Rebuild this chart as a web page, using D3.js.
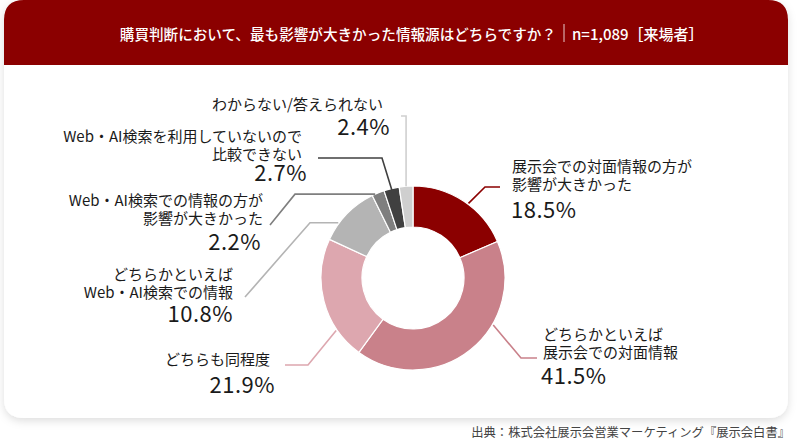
<!DOCTYPE html>
<html>
<head>
<meta charset="utf-8">
<script src="https://d3js.org/d3.v7.min.js"></script>
<style>
  body { margin: 0; background: #fff; }
  text { font-family: "Noto Sans CJK JP", "Noto Sans", sans-serif; }
</style>
</head>
<body>
<svg width="800" height="444"></svg>
<script>
var title = "購買判断において、最も影響が大きかった情報源はどちらですか？";
var sampleNote = "n=1,089［来場者］";
var source = "出典：株式会社展示会営業マーケティング『展示会白書』";

var categories = [
  "展示会での対面情報の方が\n影響が大きかった",
  "どちらかといえば\n展示会での対面情報",
  "どちらも同程度",
  "どちらかといえば\nWeb・AI検索での情報",
  "Web・AI検索での情報の方が\n影響が大きかった",
  "Web・AI検索を利用していないので\n比較できない",
  "わからない/答えられない"
];
var values = [18.5, 41.5, 21.9, 10.8, 2.2, 2.7, 2.4];
var colors = ["#8b0000", "#c9818a", "#dda7af", "#b4b4b4", "#7f7f7f", "#404040", "#cfcfcf"];

// label placement (layout only)
var labelPos = [
  { x: 512, y: 165, anchor: "start", px: 511, py: 208 },
  { x: 543, y: 333, anchor: "start", px: 541, py: 374 },
  { x: 270, y: 358, anchor: "end", px: 275, py: 383 },
  { x: 233, y: 273, anchor: "end", px: 233, py: 312 },
  { x: 263, y: 199, anchor: "end", px: 261, py: 240 },
  { x: 302, y: 135, anchor: "end", px: 307, py: 171 },
  { x: 383, y: 103, anchor: "end", px: 390, py: 125 }
];
// leader lines: where they leave the ring, then bends toward label
var leaders = [
  { frac: 0.55, r: 93, pts: [[485, 187], [500, 187]] },
  { frac: 0.36, r: 93, pts: [[521, 358], [537, 358]] },
  { frac: 0.25, r: 93, pts: [[308, 365], [285, 365]] },
  { frac: 0.3, r: 93, hx: 310, pts: [[245, 297]] },
  { frac: 0.25, r: 92, hx: 295, pts: [[270, 225]] },
  { frac: 0.5, r: 90, pts: [[382, 158], [318, 158]] },
  { frac: 0.5, r: 92, vy: 116, pts: [[401, 116]] }
];

var svg = d3.select("svg");
var cx = 413, cy = 278, outerR = 92, innerR = 51;

var defs = svg.append("defs");
var f = defs.append("filter").attr("id", "sh")
  .attr("x", "-5%").attr("y", "-5%").attr("width", "110%").attr("height", "115%");
f.append("feDropShadow").attr("dx", 0).attr("dy", 3).attr("stdDeviation", 4)
  .attr("flood-color", "#000").attr("flood-opacity", 0.13);

// card + header
var cardX = 4, cardW = 784, headH = 65, cardB = 418, rad = 20;
svg.append("path")
  .attr("filter", "url(#sh)")
  .attr("fill", "#fff")
  .attr("d", "M" + cardX + "," + rad + "Q" + cardX + ",0 " + (cardX + rad) + ",0" +
    "H" + (cardX + cardW - rad) + "Q" + (cardX + cardW) + ",0 " + (cardX + cardW) + "," + rad +
    "V" + (cardB - rad) + "Q" + (cardX + cardW) + "," + cardB + " " + (cardX + cardW - rad) + "," + cardB +
    "H" + (cardX + rad) + "Q" + cardX + "," + cardB + " " + cardX + "," + (cardB - rad) + "Z");
svg.append("path")
  .attr("fill", "#8b0000")
  .attr("d", "M" + cardX + "," + headH + "V" + rad + "Q" + cardX + ",0 " + (cardX + rad) + ",0" +
    "H" + (cardX + cardW - rad) + "Q" + (cardX + cardW) + ",0 " + (cardX + cardW) + "," + rad +
    "V" + headH + "Z");

svg.append("text")
  .attr("x", 556).attr("y", 33)
  .attr("text-anchor", "end").attr("dominant-baseline", "central")
  .attr("fill", "#fff").attr("font-size", 14.6).attr("font-weight", 500)
  .text(title);
svg.append("line")
  .attr("x1", 564).attr("x2", 564).attr("y1", 24).attr("y2", 42)
  .attr("stroke", "#fff").attr("stroke-width", 0.8);
svg.append("text")
  .attr("x", 572).attr("y", 33)
  .attr("dominant-baseline", "central")
  .attr("fill", "#fff").attr("font-size", 15).attr("font-weight", 500)
  .text(sampleNote);

// donut
var pie = d3.pie().sort(null).value(function (d) { return d; });
var arcs = pie(values);
var arc = d3.arc().innerRadius(innerR).outerRadius(outerR);
var g = svg.append("g").attr("transform", "translate(" + cx + "," + cy + ")");
g.selectAll("path")
  .data(arcs)
  .join("path")
  .attr("d", arc)
  .attr("fill", function (d, i) { return colors[i]; })
  .attr("stroke", "#fff")
  .attr("stroke-width", 1.2);

// leader lines
var line = d3.line();
arcs.forEach(function (d, i) {
  var L = leaders[i];
  var a = d.startAngle + L.frac * (d.endAngle - d.startAngle);
  var p0 = [cx + L.r * Math.sin(a), cy - L.r * Math.cos(a)];
  var pts = [p0];
  if (L.hx !== undefined) pts.push([L.hx, p0[1]]);
  if (L.vy !== undefined) pts.push([p0[0], L.vy]);
  pts = pts.concat(L.pts);
  svg.append("path")
    .attr("d", line(pts))
    .attr("fill", "none")
    .attr("stroke", colors[i])
    .attr("stroke-width", 1.6);
});

// labels
var fmt = d3.format(".1f");
categories.forEach(function (c, i) {
  var p = labelPos[i];
  c.split("\n").forEach(function (s, k) {
    svg.append("text")
      .attr("x", p.x).attr("y", p.y + k * 18)
      .attr("text-anchor", p.anchor)
      .attr("dominant-baseline", "central")
      .attr("fill", "#1a1a1a")
      .attr("font-size", 15)
      .text(s);
  });
  svg.append("text")
    .attr("x", p.px).attr("y", p.py)
    .attr("text-anchor", p.anchor)
    .attr("dominant-baseline", "central")
    .attr("fill", "#1a1a1a")
    .attr("font-size", 22)
    .attr("letter-spacing", 0.5)
    .text(fmt(values[i]) + "%");
});

svg.append("text")
  .attr("x", 790).attr("y", 432)
  .attr("text-anchor", "end").attr("dominant-baseline", "central")
  .attr("fill", "#444").attr("font-size", 12.3)
  .text(source);
</script>
</body>
</html>
